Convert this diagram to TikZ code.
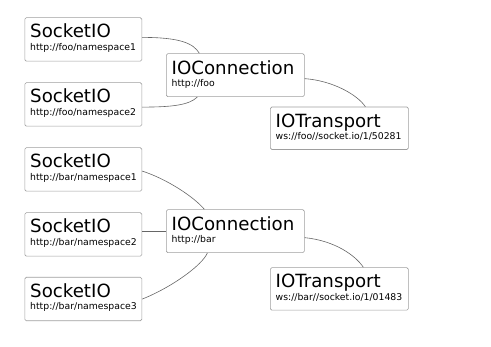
\documentclass[tikz,border=0pt]{standalone}
\usepackage{fontspec}
\setmainfont{DejaVu Sans}
\begin{document}
\begin{tikzpicture}[x=1pt,y=-1pt,
  box/.style={draw=black!38, line width=0.7pt, rounded corners=1.5pt, inner sep=0pt, anchor=north west},
  sbox/.style={box, minimum width=117pt, minimum height=43.5pt},
  wbox/.style={box, minimum width=138pt, minimum height=43pt},
  title/.style={anchor=base west, inner sep=0pt, font=\fontsize{18.2}{20}\selectfont},
  sub/.style={anchor=base west, inner sep=0pt, font=\fontsize{9.3}{11}\selectfont},
  link/.style={draw=black!60, line width=0.6pt}]
\useasboundingbox (0,0) rectangle (491,347);

% foo group
\node[sbox] (fs1) at (24.5,17.3) {};
\node[title] (fs1t) at ([shift={(5.5,20.5)}]fs1.north west) {SocketIO};
\node[sub]   (fs1s) at ([shift={(5.5,33)}]fs1.north west) {http://foo/namespace1};

\node[sbox] (fs2) at (24.5,82.3) {};
\node[title] (fs2t) at ([shift={(5.5,20.5)}]fs2.north west) {SocketIO};
\node[sub]   (fs2s) at ([shift={(5.5,33)}]fs2.north west) {http://foo/namespace2};

\node[wbox] (fc) at (166,53.3) {};
\node[title] (fct) at ([shift={(5.5,21.5)}]fc.north west) {IOConnection};
\node[sub]   (fcs) at ([shift={(5.5,33.5)}]fc.north west) {http://foo};

\node[wbox, minimum height=42.5pt] (ft) at (270,106.7) {};
\node[title] (ftt) at ([shift={(5.5,20.5)}]ft.north west) {IOTransport};
\node[sub]   (fts) at ([shift={(5.5,33.3)}]ft.north west) {ws://foo//socket.io/1/50281};

% bar group
\node[sbox] (bs1) at (24.5,147.3) {};
\node[title] (bs1t) at ([shift={(5.5,20.5)}]bs1.north west) {SocketIO};
\node[sub]   (bs1s) at ([shift={(5.5,33)}]bs1.north west) {http://bar/namespace1};

\node[sbox] (bs2) at (24.5,212.3) {};
\node[title] (bs2t) at ([shift={(5.5,20.5)}]bs2.north west) {SocketIO};
\node[sub]   (bs2s) at ([shift={(5.5,33)}]bs2.north west) {http://bar/namespace2};

\node[sbox] (bs3) at (24.5,277) {};
\node[title] (bs3t) at ([shift={(5.5,20.5)}]bs3.north west) {SocketIO};
\node[sub]   (bs3s) at ([shift={(5.5,33)}]bs3.north west) {http://bar/namespace3};

\node[wbox] (bc) at (166,209.3) {};
\node[title] (bct) at ([shift={(5.5,21.5)}]bc.north west) {IOConnection};
\node[sub]   (bcs) at ([shift={(5.5,33.5)}]bc.north west) {http://bar};

\node[wbox, minimum height=42.5pt] (bt) at (270,267.3) {};
\node[title] (btt) at ([shift={(5.5,20.5)}]bt.north west) {IOTransport};
\node[sub]   (bts) at ([shift={(5.5,33.3)}]bt.north west) {ws://bar//socket.io/1/01483};

% connectors
\draw[link] ([yshift=2pt]fs1.east) .. controls +(38,0) and +(-6,-10) .. ([xshift=-36pt]fc.north);
\draw[link] ([yshift=-2.7pt]fs2.east) .. controls +(30,0) and +(-8,8) .. ([xshift=-38pt]fc.south);
\draw[link] ([yshift=-3.5pt]fc.east) .. controls +(28,2) and +(-8,-12) .. ([xshift=26pt]ft.north);

\draw[link] ([yshift=-1.7pt]bs1.east) .. controls +(25,8) and +(-10,-12) .. ([xshift=-31pt]bc.north);
\draw[link] (bs2.east |- bc.west) -- (bc.west);
\draw[link] (bs3.east) .. controls +(30,-12) and +(-5,12) .. ([xshift=-28pt]bc.south);
\draw[link] ([yshift=-6.5pt]bc.east) .. controls +(30,3) and +(-8,-12) .. ([xshift=24pt]bt.north);
\end{tikzpicture}
\end{document}
